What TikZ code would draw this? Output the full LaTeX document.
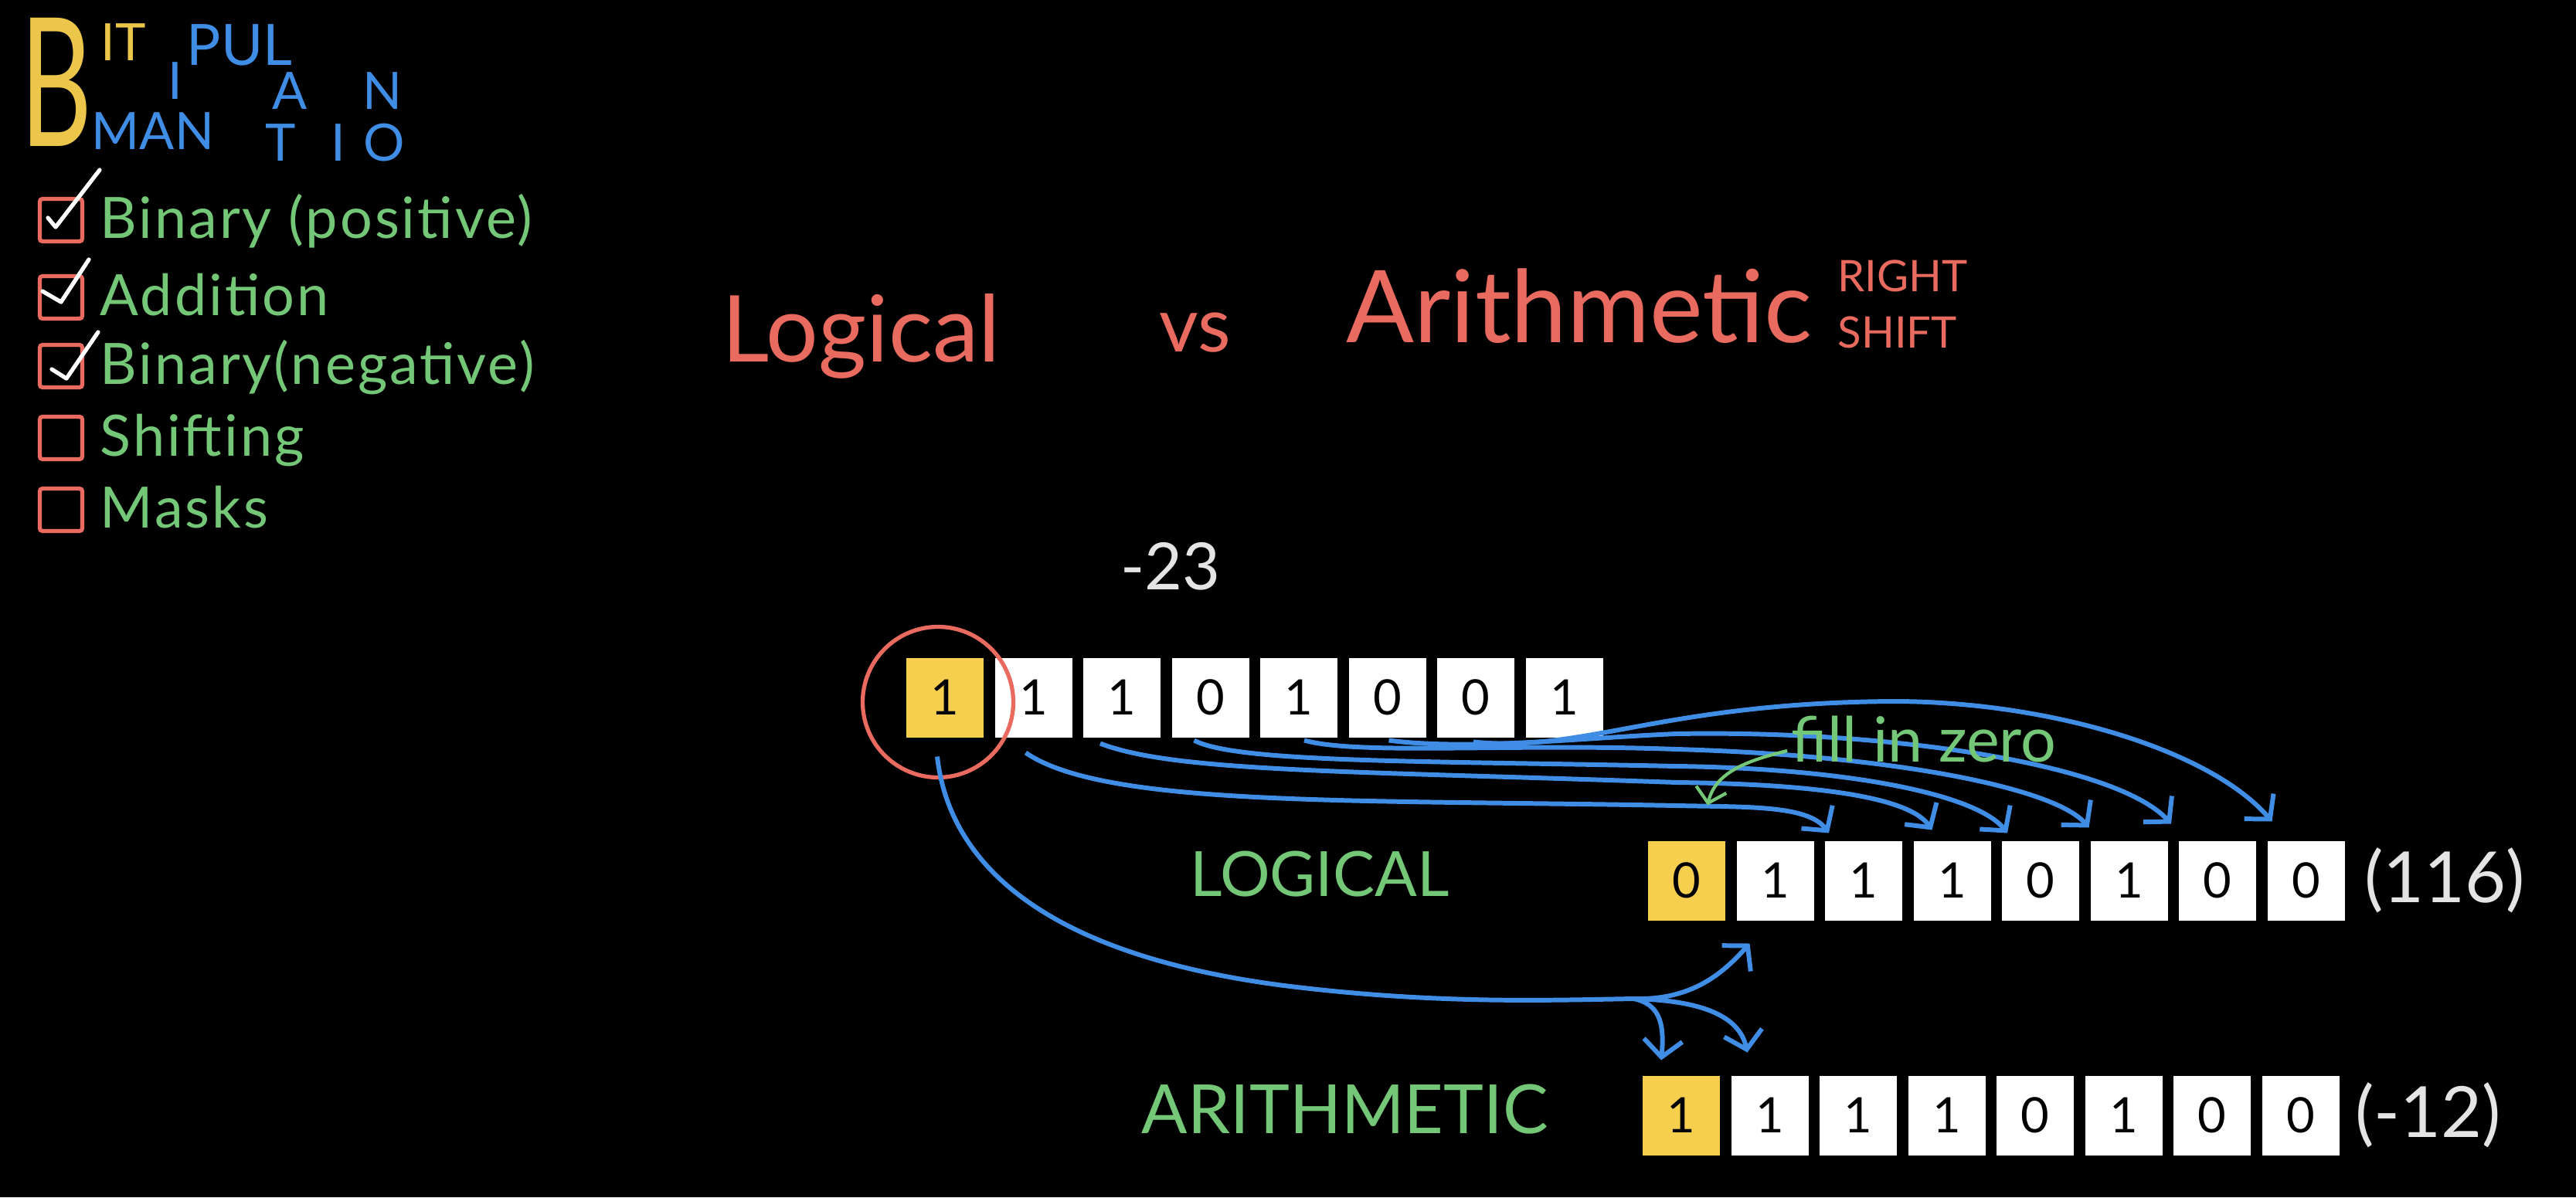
\documentclass[tikz,border=0pt]{standalone}
\usepackage{fontspec}
\setmainfont{Lato}
\usetikzlibrary{arrows.meta,positioning,calc}
\definecolor{chalkRed}{HTML}{E96A5F}
\definecolor{chalkGreen}{HTML}{73C777}
\definecolor{chalkBlue}{HTML}{3F8DE4}
\definecolor{chalkYellow}{HTML}{EBC64A}
\definecolor{chalkWhite}{HTML}{E4E4E4}
\definecolor{bitYellow}{HTML}{F6CF4E}

\begin{document}
\begin{tikzpicture}[
    bitbox/.style={fill=white, minimum width=1cm, minimum height=1.03cm, inner sep=0pt, outer sep=0pt, font=\fontsize{18}{20}\selectfont, text=black},
    signbit/.style={bitbox, fill=bitYellow},
    todobox/.style={draw=chalkRed, line width=1.5pt, rounded corners=1pt, minimum size=0.55cm, inner sep=0pt},
    topic/.style={anchor=base west, text=chalkGreen, font=\fontsize{21}{24}\selectfont\addfontfeatures{LetterSpace=4}, inner sep=0pt},
    checkmark/.style={draw=white, line width=1.5pt, line cap=round, line join=round},
    headletter/.style={text=chalkBlue, font=\fontsize{19}{21}\selectfont, inner sep=0pt},
    heading/.style={anchor=base west, text=chalkRed, inner sep=0pt},
    shiftarrow/.style={draw=chalkBlue, line width=1.7pt, -{Straight Barb[length=2.2mm,width=5mm]}},
    notearrow/.style={draw=chalkGreen, line width=1.2pt, -{Straight Barb[length=1.8mm,width=4mm]}}
  ]
    \fill[black] (0,0) rectangle (33.34,-15.5);
    \useasboundingbox (0,0) rectangle (33.34,-15.5);

    % BIT MANIPULATION heading
    \node[text=chalkYellow, font=\fontsize{66}{66}\selectfont, inner sep=0pt] (bigB) at (0.73,-1.06) {\scalebox{0.62}[1]{B}};
    \node[headletter, text=chalkYellow] (hIT) at (1.60,-0.55) {IT};
    \node[headletter, font=\fontsize{21}{23}\selectfont] (hPUL) at (3.10,-0.58) {PUL};
    \node[headletter] (hI) at (2.27,-1.05) {I};
    \node[headletter] (hA) at (3.75,-1.18) {A};
    \node[headletter] (hN) at (4.95,-1.18) {N};
    \node[headletter] (hMAN) at (1.98,-1.70) {MAN};
    \node[headletter] (hT) at (3.63,-1.85) {T};
    \node[headletter] (hIb) at (4.38,-1.85) {I};
    \node[headletter] (hO) at (4.97,-1.85) {O};

    % checklist
    \node[todobox] (box1) at (0.79,-2.85) {};
    \node[todobox] (box2) at (0.79,-3.85) {};
    \node[todobox] (box3) at (0.79,-4.74) {};
    \node[todobox] (box4) at (0.79,-5.67) {};
    \node[todobox] (box5) at (0.79,-6.60) {};
    \node[topic] (topic1) at (1.29,-3.08) {Binary (positive)};
    \node[topic] (topic2) at (1.29,-4.08) {Addition};
    \node[topic] (topic3) at (1.29,-4.97) {Binary(negative)};
    \node[topic] (topic4) at (1.29,-5.90) {Shifting};
    \node[topic] (topic5) at (1.29,-6.83) {Masks};
    \draw[checkmark] ($(box1.center)+(-0.17,0.03)$) -- ($(box1.center)+(-0.07,-0.09)$) -- ($(box1.center)+(0.50,0.65)$);
    \draw[checkmark] ($(box2.center)+(-0.24,0.08)$) -- ($(box2.center)+(0,-0.06)$) -- ($(box2.center)+(0.36,0.49)$);
    \draw[checkmark] ($(box3.center)+(-0.12,-0.04)$) -- ($(box3.center)+(0.07,-0.16)$) -- ($(box3.center)+(0.48,0.44)$);

    % title
    \node[heading, font=\fontsize{34}{40}\selectfont] (logicalTitle) at (9.34,-4.68) {Logical};
    \node[heading, font=\fontsize{28}{32}\selectfont] (vsWord) at (15.00,-4.55) {vs};
    \node[heading, font=\fontsize{37}{44}\selectfont] (arithTitle) at (17.42,-4.43) {Arithmetic};
    \node[anchor=west, text=chalkRed, font=\fontsize{16}{18}\selectfont, inner sep=0pt] (rightWord) at (23.78,-3.57) {RIGHT};
    \node[anchor=west, text=chalkRed, font=\fontsize{16}{18}\selectfont, inner sep=0pt] (shiftWord) at (23.78,-4.30) {SHIFT};

    % -23
    \node[text=chalkWhite, font=\fontsize{24}{28}\selectfont] (minus23) at (15.15,-7.33) {-23};
    \node[signbit] (T0) at (12.23,-9.03) {1};
    \node[bitbox, right=0.145cm of T0] (T1) {1};
    \node[bitbox, right=0.145cm of T1] (T2) {1};
    \node[bitbox, right=0.145cm of T2] (T3) {0};
    \node[bitbox, right=0.145cm of T3] (T4) {1};
    \node[bitbox, right=0.145cm of T4] (T5) {0};
    \node[bitbox, right=0.145cm of T5] (T6) {0};
    \node[bitbox, right=0.145cm of T6] (T7) {1};
    \node[circle, draw=chalkRed, line width=1.5pt, minimum size=1.95cm, inner sep=0pt] (signring) at ($(T0.center)+(-0.09,-0.06)$) {};

    % logical result
    \node[signbit] (L0) at (21.83,-11.40) {0};
    \node[bitbox, right=0.145cm of L0] (L1) {1};
    \node[bitbox, right=0.145cm of L1] (L2) {1};
    \node[bitbox, right=0.145cm of L2] (L3) {1};
    \node[bitbox, right=0.145cm of L3] (L4) {0};
    \node[bitbox, right=0.145cm of L4] (L5) {1};
    \node[bitbox, right=0.145cm of L5] (L6) {0};
    \node[bitbox, right=0.145cm of L6] (L7) {0};
    \node[text=chalkGreen, font=\fontsize{23}{26}\selectfont, left=2.45cm of L0, yshift=0.08cm] (logicalLabel) {LOGICAL};
    \node[text=chalkWhite, font=\fontsize{26}{30}\selectfont, right=0.25cm of L7, inner sep=0pt] (logicalValue) {(116)};

    % arithmetic result
    \node[signbit] (A0) at (21.76,-14.44) {1};
    \node[bitbox, right=0.145cm of A0] (A1) {1};
    \node[bitbox, right=0.145cm of A1] (A2) {1};
    \node[bitbox, right=0.145cm of A2] (A3) {1};
    \node[bitbox, right=0.145cm of A3] (A4) {0};
    \node[bitbox, right=0.145cm of A4] (A5) {1};
    \node[bitbox, right=0.145cm of A5] (A6) {0};
    \node[bitbox, right=0.145cm of A6] (A7) {0};
    \node[text=chalkGreen, font=\fontsize{25}{28}\selectfont, left=1.1cm of A0, yshift=0.08cm] (arithLabel) {ARITHMETIC};
    \node[text=chalkWhite, font=\fontsize{26}{30}\selectfont, right=0.2cm of A7, inner sep=0pt] (arithValue) {(-12)};

    % shifted bits
    \draw[shiftarrow] ($(T1.south)+(-0.10,-0.20)$) .. controls (14.3,-10.45) and (17.5,-10.35) .. (21.7,-10.43) .. controls (22.6,-10.45) and (23.4,-10.42) .. ($(L2.north west)+(0.05,0.10)$);
    \draw[shiftarrow] ($(T2.south)+(-0.28,-0.08)$) .. controls (15.2,-10.0) and (17.5,-9.98) .. (21.7,-10.13) .. controls (23.4,-10.15) and (24.7,-10.3) .. ($(L3.north west)+(0.24,0.14)$);
    \draw[shiftarrow] ($(T3.south)+(-0.21,-0.04)$) .. controls (16.0,-9.88) and (18.5,-9.85) .. (21.7,-9.92) .. controls (24.0,-9.95) and (25.6,-10.3) .. ($(L4.north west)+(0.07,0.10)$);
    \draw[shiftarrow] ($(T4.south)+(0.07,-0.04)$) .. controls (17.6,-9.78) and (19.5,-9.62) .. (21.7,-9.70) .. controls (24.5,-9.78) and (26.6,-10.2) .. ($(L5.north west)+(-0.02,0.17)$);
    \draw[shiftarrow] ($(T5.south)+(0.02,-0.04)$) .. controls (19.0,-9.72) and (20.5,-9.55) .. (21.7,-9.50) .. controls (24.5,-9.45) and (27.4,-9.9) .. ($(L6.north west)+(-0.10,0.22)$);
    \draw[shiftarrow] ($(T6.south)+(-0.03,-0.06)$) .. controls (20.5,-9.75) and (21.5,-9.1) .. (24.5,-9.08) .. controls (26.5,-9.08) and (28.6,-9.7) .. ($(L7.north west)+(0.06,0.25)$);

    % sign bit
    \coordinate (fork) at (21.15,-12.93);
    \draw[chalkBlue, line width=1.7pt] ($(T0.south)+(-0.10,-0.25)$) .. controls (12.3,-11.3) and (13.7,-12.4) .. (16.7,-12.77) .. controls (18.6,-13.0) and (20.0,-12.95) .. (fork);
    \draw[shiftarrow] (fork) .. controls (21.9,-12.95) and (22.3,-12.6) .. ($(L1.south west)+(0.17,-0.30)$);
    \draw[shiftarrow] (fork) .. controls (21.45,-13.0) and (21.55,-13.2) .. ($(A0.north west)+(0.24,0.20)$);
    \draw[shiftarrow] (fork) .. controls (21.9,-12.95) and (22.5,-13.1) .. ($(A1.north west)+(0.21,0.30)$);

    % fill in zero
    \node[text=chalkGreen, font=\fontsize{23}{26}\selectfont, inner sep=0pt] (fillnote) at (24.90,-9.57) {fill in zero};
    \draw[notearrow] ($(fillnote.west)+(-0.05,-0.15)$) .. controls (22.6,-9.85) and (22.2,-10.0) .. ($(L0.north)+(0.27,0.46)$);
  \end{tikzpicture}
\end{document}
